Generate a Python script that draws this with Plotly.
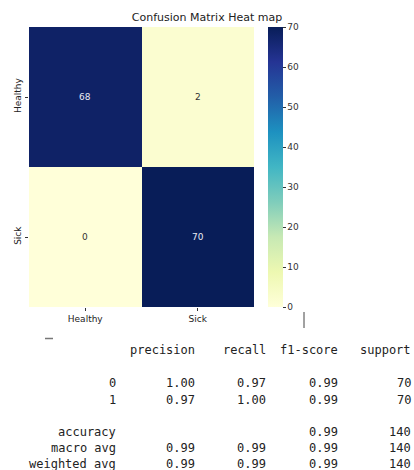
import plotly.graph_objects as go

# ---- data ----
classes = ["Healthy", "Sick"]
matrix = [[68, 2],
          [0, 70]]
cbar_ticks = [0, 10, 20, 30, 40, 50, 60, 70]

report_header = ["precision", "recall", "f1-score", "support"]
report_labels = ["0", "1", "accuracy", "macro avg", "weighted avg"]
report_precision = ["1.00", "0.97", "", "0.99", "0.99"]
report_recall = ["0.97", "1.00", "", "0.99", "0.99"]
report_f1 = ["0.99", "0.99", "0.99", "0.99", "0.99"]
report_support = ["70", "70", "140", "140", "140"]

ylgnbu = ["#ffffd9", "#edf8b1", "#c7e9b4", "#7fcdbb", "#41b6c4",
          "#1d91c0", "#225ea8", "#253494", "#081d58"]
cscale = [[i / (len(ylgnbu) - 1), c] for i, c in enumerate(ylgnbu)]

W, H = 414, 470
L, R, T, B = 29, 254, 27, 307  # plot area in pixels


def px(x):
    return (x - L) / (R - L)


def py(y):
    return (B - y) / (B - T)


fig = go.Figure(go.Heatmap(
    z=matrix, x=classes, y=classes, colorscale=cscale, zmin=0, zmax=70,
    showscale=True,
    colorbar=dict(
        x=px(268), xanchor="left", xref="paper", y=0.5, yanchor="middle",
        len=1, lenmode="fraction", thickness=15, thicknessmode="pixels",
        outlinewidth=0, tickvals=cbar_ticks, ticks="outside", ticklen=3,
        tickcolor="#333", tickwidth=1,
        tickfont=dict(family="DejaVu Sans", size=9, color="#333"),
        xpad=0, ypad=0,
    ),
    hoverinfo="skip",
))

annotations = []
# cell labels
for i, row in enumerate(matrix):
    for j, v in enumerate(row):
        annotations.append(dict(
            x=classes[j], y=classes[i], xref="x", yref="y", text=str(v),
            showarrow=False,
            font=dict(family="DejaVu Sans", size=9,
                      color="#e8ecf4" if v > 35 else "#333"),
        ))

# classification report text
mono = dict(family="DejaVu Sans Mono", size=12, color="#222")
col_right = [197, 268, 340, 413]
label_right = 118
header_y = 350
row_y = [383, 399.5, 432, 448, 464]

for h, xr in zip(report_header, col_right):
    annotations.append(dict(x=px(xr), y=py(header_y), xref="paper", yref="paper",
                            xanchor="right", yanchor="middle", text=h,
                            showarrow=False, font=mono))
for k, lab in enumerate(report_labels):
    vals = [report_precision[k], report_recall[k], report_f1[k], report_support[k]]
    annotations.append(dict(x=px(label_right), y=py(row_y[k]), xref="paper", yref="paper",
                            xanchor="right", yanchor="middle", text=lab,
                            showarrow=False, font=mono))
    for v, xr in zip(vals, col_right):
        if v:
            annotations.append(dict(x=px(xr), y=py(row_y[k]), xref="paper", yref="paper",
                                    xanchor="right", yanchor="middle", text=v,
                                    showarrow=False, font=mono))

shapes = [
    dict(type="line", xref="paper", yref="paper", x0=px(304), x1=px(304),
         y0=py(312), y1=py(328), line=dict(color="#444", width=1)),
    dict(type="line", xref="paper", yref="paper", x0=px(45), x1=px(53),
         y0=py(338.5), y1=py(338.5), line=dict(color="#777", width=1.5)),
]

fig.update_layout(
    width=W, height=H,
    margin=dict(l=L, r=W - R, t=T, b=H - B),
    paper_bgcolor="white", plot_bgcolor="white",
    title=dict(text="Confusion Matrix Heat map", x=px(141.5), xanchor="center",
               y=1 - 17.5 / H, yanchor="middle", yref="container",
               font=dict(family="DejaVu Sans", size=11, color="#222")),
    xaxis=dict(showgrid=False, zeroline=False, ticks="outside", ticklen=3,
               tickcolor="#333", tickfont=dict(family="DejaVu Sans", size=9, color="#222"),
               showline=False),
    yaxis=dict(showgrid=False, zeroline=False, ticks="outside", ticklen=3,
               tickcolor="#333", autorange="reversed", tickangle=-90,
               tickfont=dict(family="DejaVu Sans", size=9, color="#222"),
               showline=False),
    annotations=annotations,
    shapes=shapes,
    font=dict(family="DejaVu Sans"),
)

fig.write_html("out.html", config={"displayModeBar": False},
               post_script="document.body.style.margin='0';document.body.style.overflow='hidden';")
